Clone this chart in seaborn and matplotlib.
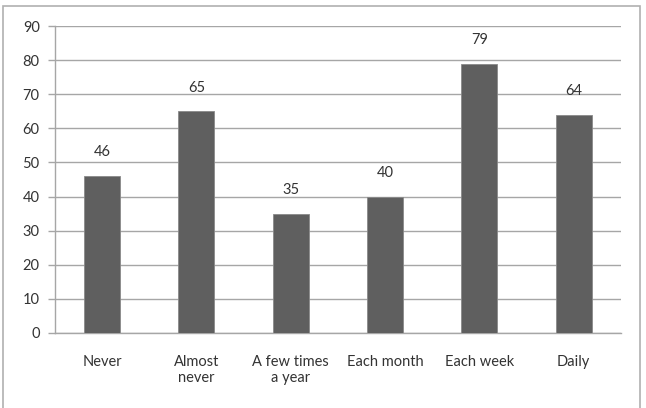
import numpy as np
import pandas as pd

import seaborn as sns
import matplotlib.pyplot as plt
from matplotlib.patches import Rectangle

# == Data == #

categories = ['Never', 'Almost\nnever', 'A few times\na year', 'Each month', 'Each week', 'Daily']
values = [46, 65, 35, 40, 79, 64]

df = pd.DataFrame({'freq': categories, 'count': values})

sns.set_style('white')
plt.rcParams['font.family'] = ['Lato', 'DejaVu Sans']

fig = plt.figure(figsize=(6.46, 4.08), dpi=100)
ax = fig.add_axes([0.085, 0.184, 0.876, 0.752])

sns.barplot(data=df, x='freq', y='count', color='#5f5f5f', width=0.38,
            saturation=1, edgecolor='#8a8a8a', linewidth=0.6, ax=ax, zorder=3)

# -- value labels above the bars
for i, v in enumerate(values):
    ax.annotate(str(v), (i, v), xytext=(0, 17), textcoords='offset points',
                ha='center', va='center', fontsize=10.5, color='#333333')

ax.set_ylim(0, 90)
ax.set_yticks(range(0, 91, 10))
ax.set_xlim(-0.5, len(categories) - 0.5)
ax.yaxis.grid(True, color='#a6a6a6', linewidth=1, zorder=0)
ax.set_axisbelow(True)

for s in ['top', 'right']:
    ax.spines[s].set_visible(False)
for s in ['left', 'bottom']:
    ax.spines[s].set_color('#a6a6a6')
    ax.spines[s].set_linewidth(1)

ax.set_xticks(np.arange(-0.5, len(categories), 1), minor=True)
ax.tick_params(axis='x', which='major', length=0, pad=16, labelsize=10.5, labelcolor='#333333')
ax.tick_params(axis='x', which='minor', length=5, color='#a6a6a6', width=1, direction='out')
ax.tick_params(axis='y', length=5, color='#a6a6a6', width=1, direction='out', left=True,
               labelsize=10.5, labelcolor='#333333', pad=6)
ax.set_xlabel('')
ax.set_ylabel('')

# -- outer chart border
fig.patches.append(Rectangle((0.005, -0.01), 0.986, 0.995, transform=fig.transFigure,
                             fill=False, edgecolor='#b0b0b0', linewidth=1.2))

plt.savefig('out.png', dpi=100)
